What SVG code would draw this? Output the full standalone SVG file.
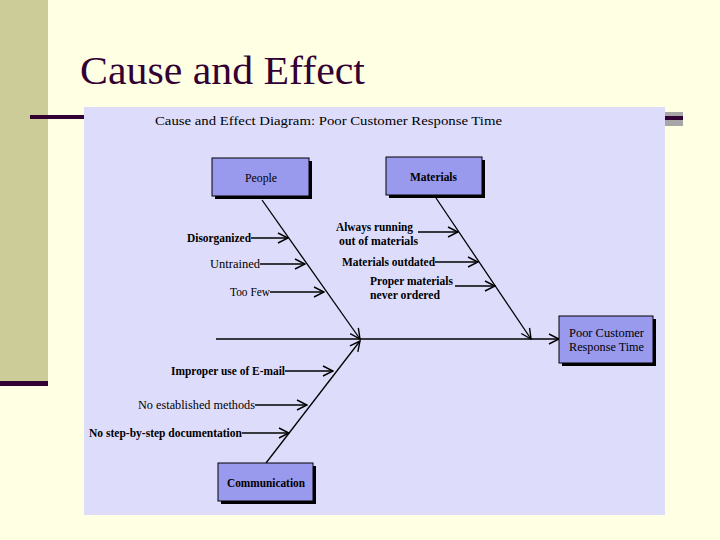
<svg xmlns="http://www.w3.org/2000/svg" width="720" height="540" viewBox="0 0 720 540">
<defs>
<style>
.t{font-family:"Liberation Serif","DejaVu Serif","Times New Roman",serif;fill:#000;font-size:12px}
.b{font-weight:bold}
.box{fill:#9999EE;stroke:#000;stroke-width:1}
.sh{fill:#000}
.ln{stroke:#000;stroke-width:1.3;fill:none}
</style>
<marker id="ah" viewBox="0 0 12 12" refX="11" refY="6" markerWidth="12" markerHeight="12" markerUnits="userSpaceOnUse" orient="auto">
<path d="M1,1 L11,6 L1,11" fill="none" stroke="#000" stroke-width="1.4"/>
</marker>
</defs>
<rect width="720" height="540" fill="#FFFFE3"/>
<rect x="0" y="0" width="48" height="382" fill="#CCCC99"/>
<rect x="0" y="381" width="48" height="5" fill="#330033"/>
<rect x="30" y="115" width="60" height="4" fill="#330033"/>
<rect x="660" y="112" width="23" height="14" fill="#A6A6A6"/>
<rect x="660" y="116" width="23" height="4" fill="#330033"/>
<text x="80" y="84" font-family="Liberation Serif,DejaVu Serif,serif" font-size="41" fill="#330033" textLength="285" lengthAdjust="spacingAndGlyphs">Cause and Effect</text>
<rect x="84" y="107" width="581" height="408" fill="#DDDDFB"/>
<text class="t" x="155" y="125" font-size="12.5" textLength="347" lengthAdjust="spacingAndGlyphs">Cause and Effect Diagram: Poor Customer Response Time</text>

<g id="connectors">
<line class="ln" x1="216" y1="339" x2="559" y2="339" marker-end="url(#ah)"/>
<line class="ln" x1="262" y1="200" x2="360" y2="339" marker-end="url(#ah)"/>
<line class="ln" x1="436" y1="198" x2="531" y2="339" marker-end="url(#ah)"/>
<line class="ln" x1="266" y1="463" x2="360" y2="341" marker-end="url(#ah)"/>
<line class="ln" x1="251" y1="238" x2="288" y2="238" marker-end="url(#ah)"/>
<line class="ln" x1="260" y1="264" x2="305" y2="264" marker-end="url(#ah)"/>
<line class="ln" x1="270" y1="292" x2="324" y2="292" marker-end="url(#ah)"/>
<line class="ln" x1="418" y1="232" x2="458" y2="232" marker-end="url(#ah)"/>
<line class="ln" x1="435" y1="262" x2="478" y2="262" marker-end="url(#ah)"/>
<line class="ln" x1="455" y1="286" x2="495" y2="286" marker-end="url(#ah)"/>
<line class="ln" x1="285" y1="371" x2="333" y2="371" marker-end="url(#ah)"/>
<line class="ln" x1="255" y1="405" x2="307" y2="405" marker-end="url(#ah)"/>
<line class="ln" x1="242" y1="433" x2="289" y2="433" marker-end="url(#ah)"/>
</g>

<g id="people">
<rect class="sh" x="215" y="161" width="97" height="38"/>
<rect class="box" x="212" y="158" width="97" height="38"/>
<text class="t" x="245" y="182" textLength="32" lengthAdjust="spacingAndGlyphs">People</text>
</g>
<g id="materials">
<rect class="sh" x="389" y="160" width="96" height="38"/>
<rect class="box" x="386" y="157" width="96" height="38"/>
<text class="t b" x="410" y="181" textLength="47" lengthAdjust="spacingAndGlyphs">Materials</text>
</g>
<g id="effect">
<rect class="sh" x="562" y="319" width="94" height="47"/>
<rect class="box" x="559" y="316" width="94" height="47"/>
<text class="t" x="569" y="337" textLength="75" lengthAdjust="spacingAndGlyphs">Poor Customer</text>
<text class="t" x="569" y="351" textLength="75" lengthAdjust="spacingAndGlyphs">Response Time</text>
</g>
<g id="communication">
<rect class="sh" x="221" y="466" width="95" height="38"/>
<rect class="box" x="218" y="463" width="95" height="38"/>
<text class="t b" x="227" y="487" textLength="78" lengthAdjust="spacingAndGlyphs">Communication</text>
</g>

<g id="causes">
<text class="t b" x="187" y="242" textLength="64" lengthAdjust="spacingAndGlyphs">Disorganized</text>
<text class="t" x="210" y="268" textLength="50" lengthAdjust="spacingAndGlyphs">Untrained</text>
<text class="t" x="230" y="296" textLength="40" lengthAdjust="spacingAndGlyphs">Too Few</text>
<text class="t b" x="336" y="231" textLength="77" lengthAdjust="spacingAndGlyphs">Always running</text>
<text class="t b" x="339" y="245" textLength="79" lengthAdjust="spacingAndGlyphs">out of materials</text>
<text class="t b" x="342" y="266" textLength="93" lengthAdjust="spacingAndGlyphs">Materials outdated</text>
<text class="t b" x="370" y="285" textLength="83" lengthAdjust="spacingAndGlyphs">Proper materials</text>
<text class="t b" x="370" y="299" textLength="70" lengthAdjust="spacingAndGlyphs">never ordered</text>
<text class="t b" x="171" y="375" textLength="114" lengthAdjust="spacingAndGlyphs">Improper use of E-mail</text>
<text class="t" x="138" y="409" textLength="117" lengthAdjust="spacingAndGlyphs">No established methods</text>
<text class="t b" x="89" y="437" textLength="153" lengthAdjust="spacingAndGlyphs">No step-by-step documentation</text>
</g>
</svg>
